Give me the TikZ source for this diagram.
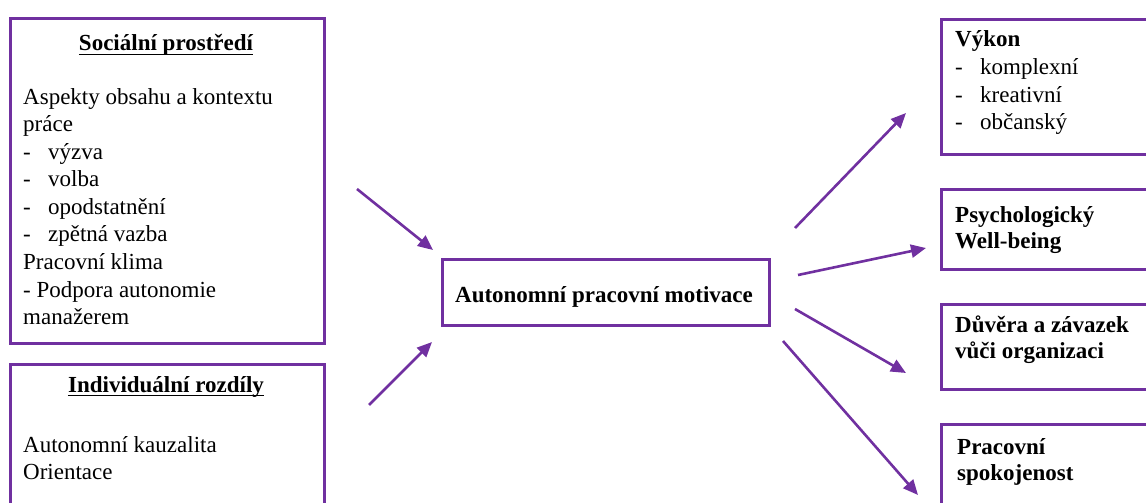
\documentclass[tikz,border=0pt]{standalone}
\usepackage{fontspec}
\setmainfont{Liberation Serif}
\usetikzlibrary{arrows.meta}
\definecolor{vio}{RGB}{112,48,160}
\newcommand{\dsh}{\makebox[25pt][l]{-}}
\begin{document}
\begin{tikzpicture}[x=1pt,y=-1pt,
  box/.style={draw=vio, line width=3pt, rectangle, inner sep=0pt, anchor=north west},
  txt/.style={inner sep=0pt, anchor=base west, font=\fontsize{23}{27.6}\selectfont},
  head/.style={inner sep=0pt, anchor=base, font=\fontsize{23}{27.6}\selectfont\bfseries},
  uline/.style={line width=1.4pt},
  arr/.style={draw=vio, line width=2.6pt, -{Triangle[length=15pt,width=13pt]}}
]
\useasboundingbox (0,0) rectangle (1146,503);
\clip (0,0) rectangle (1146,503);

% boxes
\node[box, minimum width=314pt, minimum height=325pt] (social) at (9,17) {};
\node[box, minimum width=314pt, minimum height=170pt] (indiv) at (9,363) {};
\node[box, minimum width=327pt, minimum height=66pt] (center) at (441,258) {};
\node[box, minimum width=250pt, minimum height=135pt] (vykon) at (940,18) {};
\node[box, minimum width=250pt, minimum height=80pt] (psych) at (940,188) {};
\node[box, minimum width=250pt, minimum height=85pt] (duvera) at (940,303) {};
\node[box, minimum width=250pt, minimum height=120pt] (spokoj) at (940,423) {};

% left texts
\node[head] (hsoc) at (166,51) {Sociální prostředí};
\draw[uline] ([yshift=-3.5pt]hsoc.base west) -- ([yshift=-3.5pt]hsoc.base east);
\node[txt] (tsoc) at (23,104) {\begin{tabular}[t]{@{}l@{}}Aspekty obsahu a kontextu\\
práce\\
\dsh výzva\\
\dsh volba\\
\dsh opodstatnění\\
\dsh zpětná vazba\\
Pracovní klima\\
- Podpora autonomie\\
manažerem\end{tabular}};

\node[head] (hind) at (166,392) {Individuální rozdíly};
\draw[uline] ([yshift=-3.5pt]hind.base west) -- ([yshift=-3.5pt]hind.base east);
\node[txt] (tind) at (23,452) {\begin{tabular}[t]{@{}l@{}}Autonomní kauzalita\\
Orientace\end{tabular}};

% center
\node[head] (tcen) at (604,302) {Autonomní pracovní motivace};

% right texts
\node[txt] (tvyk) at (955,47) {\begin{tabular}[t]{@{}l@{}}\textbf{Výkon}\\
\dsh komplexní\\
\dsh kreativní\\
\dsh občanský\end{tabular}};
\node[txt, font=\fontsize{23}{26.5}\selectfont\bfseries] (tpsy) at (955,222) {\begin{tabular}[t]{@{}l@{}}Psychologický\\
Well-being\end{tabular}};
\node[txt, font=\fontsize{23}{26.5}\selectfont\bfseries] (tduv) at (955,332) {\begin{tabular}[t]{@{}l@{}}Důvěra a závazek\\
vůči organizaci\end{tabular}};
\node[txt, font=\fontsize{23}{26.5}\selectfont\bfseries] (tspo) at (957,454) {\begin{tabular}[t]{@{}l@{}}Pracovní\\
spokojenost\end{tabular}};

% arrow end points
\coordinate (a1s) at (357,189); \coordinate (a1e) at (433,250);
\coordinate (a2s) at (369,405); \coordinate (a2e) at (432,342);
\coordinate (a3s) at (795,228); \coordinate (a3e) at (906,113);
\coordinate (a4s) at (798,275); \coordinate (a4e) at (926,248);
\coordinate (a5s) at (795,309); \coordinate (a5e) at (906,373);
\coordinate (a6s) at (783,341); \coordinate (a6e) at (918,495);

\draw[arr] (a1s) -- (a1e);
\draw[arr] (a2s) -- (a2e);
\draw[arr] (a3s) -- (a3e);
\draw[arr] (a4s) -- (a4e);
\draw[arr] (a5s) -- (a5e);
\draw[arr] (a6s) -- (a6e);
\end{tikzpicture}
\end{document}
